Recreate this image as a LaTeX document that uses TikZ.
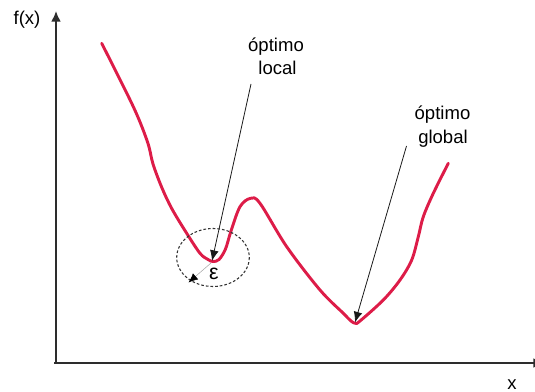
\documentclass[tikz,border=0pt]{standalone}
\usepackage{fontspec}
\setmainfont{Liberation Sans}
\usetikzlibrary{arrows.meta}
\definecolor{curvered}{RGB}{221,28,72}
\definecolor{axisgray}{RGB}{45,45,45}
\tikzset{
  lbl/.style={font=\fontsize{13.9}{17.5}\selectfont, inner sep=0pt, align=center, text=black},
  axisline/.style={draw=axisgray, line width=1.5pt},
  pointer/.style={draw=black!90, line width=0.6pt, -{Latex[length=8pt,width=6.5pt]}},
  curve/.style={draw=curvered, line width=2.2pt, line cap=round, line join=round},
}
\begin{document}
\begin{tikzpicture}[x=0.75pt,y=-0.75pt]
\useasboundingbox (0,0) rectangle (535,392);
% axes
\coordinate (origin) at (54.5,363);
\coordinate (ytop) at (56,11);
\coordinate (xend) at (544,363);
\draw[axisline, -{Latex[length=8pt,width=7.5pt]}] (origin -| ytop) -- (ytop);
\draw[axisline, -{Latex[length=8pt,width=7.5pt]}] (54,363) -- (xend);
\node[lbl, anchor=base] (fx) at (27,24.5) {f(x)};
\node[lbl, anchor=base] (xl) at (512,389.5) {x};
% curve
\draw[curve] plot[smooth, tension=0.55] coordinates {
 (101.7,43.3) (133.3,106.7) (147.5,142) (153,164) (162,188) (172,209)
 (186.7,233.3) (200,253.3) (208,259.5) (213,261.5) (219,259.5) (225.5,249) (231,231) (240,206.7)
 (250.5,198.3) (260,203.3) (286.7,246.7) (320,290) (343.3,313.3) (351,321)
 (355.5,323.3) (360,321) (383.3,300) (400,280) (411.7,260) (418.3,236.7) (423.3,216.7)
 (433.3,193.3) (448.3,163.3)};
\coordinate (locmin) at (212,261);
\coordinate (globmin) at (355,322.5);
% neighbourhood
\draw[black!80, dash pattern=on 2pt off 1.5pt, line width=0.8pt] (213,257.5) ellipse [x radius=36.3, y radius=29];
\coordinate (rstart) at (211,263);
\coordinate (rend) at (188.5,282.5);
\draw[black!35, line width=0.4pt, -{Latex[length=7pt,width=6pt,black]}] (rstart) -- (rend);
\node[lbl, anchor=base, font=\fontsize{16}{18}\selectfont] (eps) at (214,279) {ε};
% labels and pointers
\node[lbl, anchor=base] (loc1) at (276,51.5) {óptimo};
\node[lbl, anchor=base] (loc2) at (277.5,75) {local};
\coordinate (locstart) at (251,84);
\draw[pointer] (locstart) -- (locmin);
\node[lbl, anchor=base] (glob1) at (442.5,120) {óptimo};
\node[lbl, anchor=base] (glob2) at (443,143.5) {global};
\coordinate (globstart) at (406.5,146);
\draw[pointer] (globstart) -- (globmin);
\end{tikzpicture}
\end{document}
